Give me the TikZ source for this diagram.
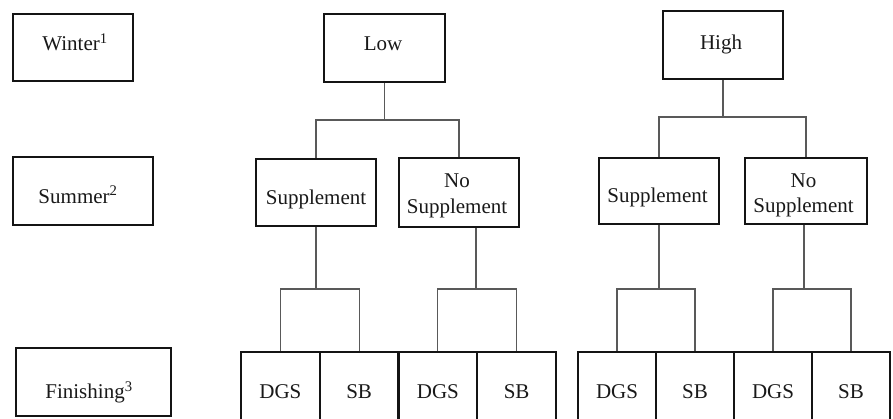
\documentclass[tikz,border=0pt]{standalone}
\usepackage{fontspec}
\setmainfont{Liberation Serif}
\begin{document}
\begin{tikzpicture}[x=1pt,y=-1pt,
  every node/.style={font=\fontsize{21}{25.5}\selectfont, text=black!90},
  box/.style={draw=black!92, line width=2pt, inner sep=0pt},
  cell/.style={box, minimum height=80pt},
  conn/.style={draw=black!65, line width=1.1pt},
  txt/.style={inner sep=0pt, text height=13.9pt, text depth=0pt},
  txttwo/.style={inner sep=0pt, align=center}]
\useasboundingbox (0,0) rectangle (893,419);
\clip (0,0) rectangle (893,419);
\fill[white] (0,0) rectangle (893,419);
% left legend boxes
\node[box, minimum width=120pt, minimum height=67pt] (winter) at (73,47.5) {};
\node[txt] (winterT) at (75,44) {Winter\textsuperscript{1}};
\node[box, minimum width=140pt, minimum height=68pt] (summer) at (83,191) {};
\node[txt] (summerT) at (78,196.5) {Summer\textsuperscript{2}};
\node[box, minimum width=155pt, minimum height=68pt] (fin) at (93.5,382) {};
\node[txt] (finT) at (89,392) {Finishing\textsuperscript{3}};
% winter level
\node[box, minimum width=121pt, minimum height=68pt] (low) at (384.5,48) {};
\node[txt] (lowT) at (383,44) {Low};
\node[box, minimum width=120pt, minimum height=68pt] (high) at (723,45) {};
\node[txt] (highT) at (721,42.5) {High};
% summer level
\node[box, minimum width=120pt, minimum height=67pt] (sup1) at (316,192.5) {};
\node[txt] (sup1T) at (316,197.5) {Supplement};
\node[box, minimum width=120pt, minimum height=69pt] (nos1) at (459,192.5) {};
\node[txttwo] (nos1T) at (457,195.8) {No\\Supplement};
\node[box, minimum width=120pt, minimum height=66pt] (sup2) at (659,191) {};
\node[txt] (sup2T) at (657.5,195.5) {Supplement};
\node[box, minimum width=122pt, minimum height=66pt] (nos2) at (806,191) {};
\node[txttwo] (nos2T) at (803.5,195.3) {No\\Supplement};
% finishing level
\node[cell, minimum width=78.75pt] (c1) at (280.4,392) {DGS};
\node[cell, minimum width=78.75pt] (c2) at (359.1,392) {SB};
\node[cell, minimum width=78.75pt] (c3) at (437.9,392) {DGS};
\node[cell, minimum width=78.75pt] (c4) at (516.6,392) {SB};
\node[cell, minimum width=78pt] (c5) at (617,392) {DGS};
\node[cell, minimum width=78pt] (c6) at (695,392) {SB};
\node[cell, minimum width=78pt] (c7) at (773,392) {DGS};
\node[cell, minimum width=78pt] (c8) at (851,392) {SB};
% bar levels
\coordinate (barL) at (0,120);
\coordinate (barH) at (0,117);
\coordinate (barB) at (0,289);
% connectors
\begin{scope}[on background layer/.try]
\end{scope}
\draw[conn] (low.south) -- (low.south |- barL);
\draw[conn] (sup1.north) |- (nos1.north |- barL) -- (nos1.north);
\draw[conn] (high.south) -- (high.south |- barH);
\draw[conn] (sup2.north) |- (nos2.north |- barH) -- (nos2.north);
\draw[conn] (sup1.south) -- (sup1.south |- barB);
\draw[conn] (c1.north) |- (c2.north |- barB) -- (c2.north);
\draw[conn] ([xshift=17pt]nos1.south) -- ([xshift=17pt]nos1.south |- barB);
\draw[conn] (c3.north) |- (c4.north |- barB) -- (c4.north);
\draw[conn] (sup2.south) -- (sup2.south |- barB);
\draw[conn] (c5.north) |- (c6.north |- barB) -- (c6.north);
\draw[conn] ([xshift=-2pt]nos2.south) -- ([xshift=-2pt]nos2.south |- barB);
\draw[conn] (c7.north) |- (c8.north |- barB) -- (c8.north);
\end{tikzpicture}
\end{document}
